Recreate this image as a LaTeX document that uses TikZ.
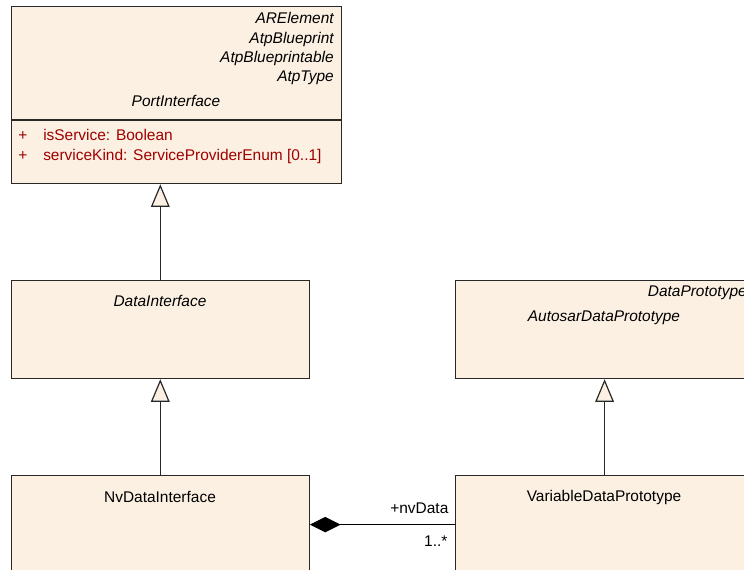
\documentclass[tikz,border=0pt]{standalone}
\usepackage{fontspec}
\setmainfont{Liberation Sans}
\usetikzlibrary{arrows.meta, positioning}
\definecolor{umlFill}{RGB}{251,240,226}
\definecolor{umlLine}{RGB}{40,40,40}
\definecolor{umlAttr}{RGB}{160,0,0}

\begin{document}
\begin{tikzpicture}[
    x=0.75pt, y=-0.75pt,
    classbox/.style={draw=umlLine, fill=umlFill, line width=0.9pt, anchor=north west, inner sep=0pt, minimum width=223.5pt, minimum height=73.5pt},
    bigbox/.style={classbox, minimum width=247.7pt, minimum height=133pt},
    abstractname/.style={font=\fontsize{11.6}{14}\selectfont\itshape, inner sep=0pt},
    classname/.style={font=\fontsize{11.6}{14}\selectfont, inner sep=0pt, anchor=base},
    attr/.style={font=\fontsize{11.6}{14}\selectfont, text=umlAttr, inner sep=0pt, anchor=base west},
    rolelabel/.style={font=\fontsize{11.6}{14}\selectfont, inner sep=0pt, anchor=base east},
    generalization/.style={-{Triangle[length=17pt, width=14pt, fill=umlFill]}, draw=umlLine, line width=0.9pt},
    composition/.style={{Diamond[length=23pt, width=11.5pt, fill=black]}-, draw=black, line width=0.9pt}
]
    \useasboundingbox (0,0) rectangle (744,570);

    \node[bigbox] (portif) at (10.7,5.7) {};
    \node[classbox] (dataif) at (10.7,280) {};
    \node[classbox] (nvdi) at (10.7,475) {};
    \node[classbox] (dataproto) at (455,280) {};
    \node[classbox] (vdp) at (455,475) {};
    \draw[umlLine, line width=0.9pt] (portif.west |- 0,120) -- (portif.east |- 0,120);

    \node[abstractname, anchor=base east] (arelement) at (334,24) {ARElement};
    \node[abstractname, anchor=base east] (blueprint) at (334,44) {AtpBlueprint};
    \node[abstractname, anchor=base east] (blueprintable) at (334,63) {AtpBlueprintable};
    \node[abstractname, anchor=base east] (atptype) at (334,82) {AtpType};
    \node[abstractname, anchor=base] (portifname) at (176,107) {PortInterface};
    \node[attr] (plus1) at (18,141) {+};
    \node[attr] (isservice) at (43,141) {isService: Boolean};
    \node[attr] (plus2) at (18,161) {+};
    \node[attr] (servicekind) at (43,161) {serviceKind: ServiceProviderEnum [0..1]};

    \node[abstractname, anchor=base] (dataifname) at (160,307) {DataInterface};
    \node[abstractname, anchor=base east] (dataprotoname) at (747,297) {DataPrototype};
    \node[abstractname, anchor=base] (autosarname) at (604,322) {AutosarDataPrototype};
    \node[classname] (nvdiname) at (160,503) {NvDataInterface};
    \node[classname] (vdpname) at (604,502) {VariableDataPrototype};

    \draw[generalization] (dataif.north) -- (dataif.north |- portif.south);
    \draw[generalization] (nvdi.north) -- (dataif.south);
    \draw[generalization] (vdp.north) -- (dataproto.south);
    \draw[composition] (nvdi.east) -- (vdp.west)
        node[rolelabel, pos=1, xshift=-4.5pt, yshift=8.25pt] (role) {+nvData}
        node[rolelabel, pos=1, xshift=-5.25pt, yshift=-16.5pt] (mult) {1..*};
\end{tikzpicture}
\end{document}
